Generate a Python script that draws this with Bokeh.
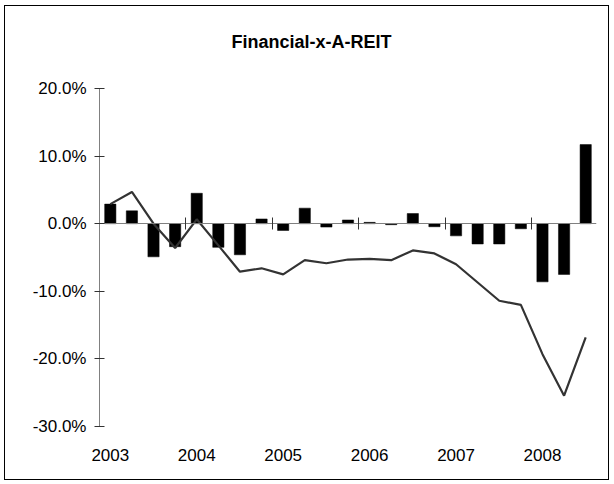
from bokeh.plotting import figure
from bokeh.models import Range1d, LinearAxis, FixedTicker, PrintfTickFormatter, ColumnDataSource, Title
from bokeh.embed import file_html
from bokeh.resources import INLINE

# ---- data (percent) ----
title_text = "Financial-x-A-REIT"
years = ["2003", "2004", "2005", "2006", "2007", "2008"]
quarters_per_year = 4
bar_values = [2.9, 1.9, -4.9, -3.4,
              4.5, -3.5, -4.6, 0.7,
              -1.0, 2.3, -0.5, 0.55,
              0.2, -0.15, 1.5, -0.45,
              -1.8, -3.0, -3.0, -0.75,
              -8.6, -7.5, 11.7]
line_values = [2.9, 4.7, 0.0, -3.6,
               0.65, -3.2, -7.1, -6.6,
               -7.5, -5.4, -5.85, -5.3,
               -5.2, -5.4, -3.95, -4.4,
               -6.0, -8.7, -11.4, -12.0,
               -19.3, -25.45, -16.8]
y_ticks = [-30, -20, -10, 0, 10, 20]

n = len(bar_values)
xs = [i + 0.5 for i in range(n)]
src = ColumnDataSource(dict(x=xs, bar=bar_values, line=line_values))

p = figure(frame_width=497, frame_height=338,
           min_border_left=94, min_border_right=12, min_border_top=82, min_border_bottom=53,
           x_range=Range1d(0, n), y_range=Range1d(-30, 20),
           output_backend="svg", toolbar_location=None)
p.styles = {"border": "1px solid #000000", "margin-left": "4px", "margin-top": "5px"}
p.outline_line_color = None
p.xgrid.visible = False
p.ygrid.visible = False
p.background_fill_color = "white"
p.border_fill_color = "white"

xa = p.below[0]   # year-label axis
ya = p.left[0]    # value axis

# invisible spacer axis between title and plot area
spacer = LinearAxis(ticker=FixedTicker(ticks=[1]))
spacer.axis_line_color = None
spacer.major_tick_line_color = None
spacer.minor_tick_line_color = None
spacer.major_tick_in = 0
spacer.major_tick_out = 36
spacer.major_label_standoff = 0
spacer.major_label_overrides = {1: ""}
spacer.major_label_text_color = None
spacer.major_label_text_font_size = "0px"
p.add_layout(spacer, "above")

title = Title(text=title_text, align="left", vertical_align="middle",
              text_font="Liberation Sans", text_font_style="bold",
              text_font_size="18px", text_color="#000000", standoff=0, offset=132)
p.add_layout(title, "above")

p.vbar(x="x", top="bar", bottom=0, width=0.52, source=src,
       fill_color="#000000", line_color="#000000", line_width=0.5)
p.line(x="x", y="line", source=src, line_color="#333333", line_width=2.2)

# y axis
ya.ticker = FixedTicker(ticks=y_ticks)
ya.formatter = PrintfTickFormatter(format="%.1f%%")
ya.major_tick_in = 5
ya.major_tick_out = 5
ya.minor_tick_line_color = None
ya.axis_line_color = "#808080"
ya.major_tick_line_color = "#333333"
ya.major_label_standoff = 8
ya.major_label_text_font = "Liberation Sans"
ya.major_label_text_font_size = "17px"
ya.major_label_text_color = "#000000"

# bottom axis: only year labels
label_pos = [i * quarters_per_year + 0.5 for i in range(len(years))]
xa.ticker = FixedTicker(ticks=label_pos)
xa.major_label_overrides = {pos: yr for pos, yr in zip(label_pos, years)}
xa.axis_line_color = None
xa.major_tick_line_color = None
xa.minor_tick_line_color = None
xa.major_label_standoff = 16
xa.major_label_text_font = "Liberation Sans"
xa.major_label_text_font_size = "17px"
xa.major_label_text_color = "#000000"

# category axis crossing at zero
za = LinearAxis(fixed_location=0,
                ticker=FixedTicker(ticks=[i * quarters_per_year for i in range(1, len(years))]))
za.axis_line_color = "#808080"
za.major_tick_line_color = "#333333"
za.major_tick_in = 6
za.major_tick_out = 6
za.minor_tick_line_color = None
za.major_label_text_color = None
za.major_label_text_font_size = "0px"
p.add_layout(za, "below")

open("out.html", "w").write(file_html(p, INLINE))
